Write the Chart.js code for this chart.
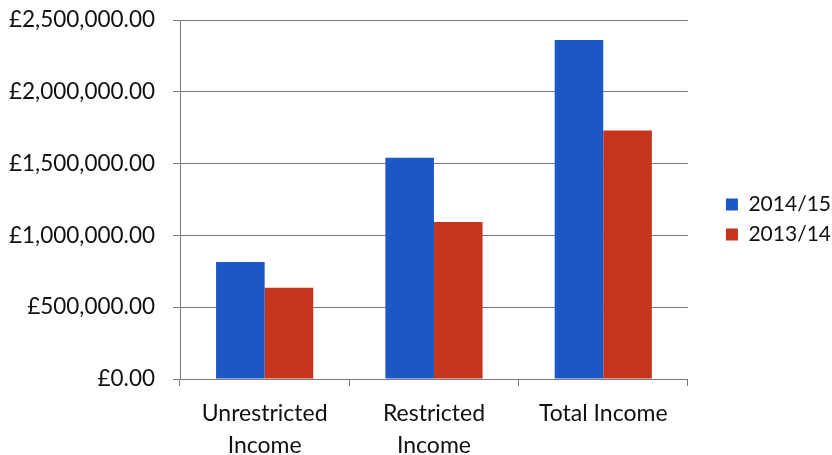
<!DOCTYPE html>
<html>
<head>
<meta charset="utf-8">
<script src="https://cdn.jsdelivr.net/npm/chart.js@4"></script>
<style>
  html, body { margin: 0; padding: 0; background: #fff; }
  #wrap { width: 832px; height: 455px; position: relative; }
</style>
</head>
<body>
<div id="wrap"><canvas id="c"></canvas></div>
<script>
// Income categories (multi-line labels) and yearly totals in pounds
const categories = [["Unrestricted", "Income"], ["Restricted", "Income"], "Total Income"];
const income2014_15 = [815000, 1540000, 2360000];
const income2013_14 = [635000, 1093000, 1730000];
const seriesLabels = ["2014/15", "2013/14"];

const gbp = v => "£" + Number(v).toLocaleString("en-GB", { minimumFractionDigits: 2, maximumFractionDigits: 2 });
const FONT = "Lato, 'Open Sans', sans-serif";

// Nudge the legend block so it sits a little higher and further right
const legendNudge = {
  id: "legendNudge",
  afterLayout(chart) {
    const lg = chart.legend;
    if (!lg) return;
    lg.top -= 18; lg.bottom -= 18;
    lg.left += 29; lg.right += 29;
  }
};

new Chart(document.getElementById("c"), {
  type: "bar",
  data: {
    labels: categories,
    datasets: [
      { label: seriesLabels[0], data: income2014_15, backgroundColor: "#1b57c5" },
      { label: seriesLabels[1], data: income2013_14, backgroundColor: "#c5351d" }
    ]
  },
  plugins: [legendNudge],
  options: {
    responsive: true,
    maintainAspectRatio: false,
    animation: false,
    categoryPercentage: 0.574,
    barPercentage: 1.0,
    layout: { padding: { top: 20, right: 20, left: 8, bottom: 0 } },
    plugins: {
      tooltip: { enabled: false },
      legend: {
        position: "right",
        labels: {
          color: "#111",
          font: { family: FONT, size: 21 },
          boxWidth: 12,
          boxHeight: 12,
          padding: 9
        }
      }
    },
    scales: {
      x: {
        grid: { display: true, drawOnChartArea: false, offset: true, tickLength: 7, color: "#7a7a7a" },
        border: { color: "#7a7a7a", width: 1 },
        ticks: { color: "#111", font: { family: FONT, size: 23, lineHeight: 1.4 }, padding: 11, maxRotation: 0 },
        afterFit: s => { s.height = 76; s.paddingLeft = 0; s.paddingRight = 0; }
      },
      y: {
        min: 0,
        max: 2500000,
        ticks: { stepSize: 500000, color: "#111", font: { family: FONT, size: 22.5 }, padding: 18, callback: v => gbp(v) },
        grid: { color: "#7a7a7a", tickLength: 7 },
        border: { color: "#7a7a7a", width: 1 },
        afterFit: s => { s.width = 172; s.paddingTop = 0; s.paddingBottom = 0; }
      }
    }
  }
});
</script>
</body>
</html>
